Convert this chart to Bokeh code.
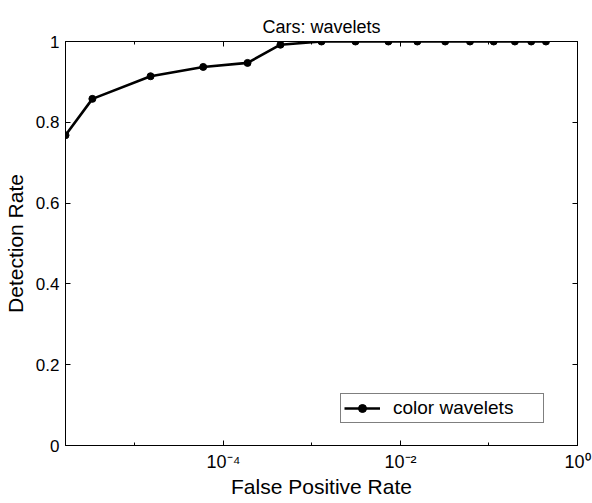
from bokeh.plotting import figure
from bokeh.models import (Range1d, FixedTicker, CustomJSTickFormatter, LogAxis,
                          LinearAxis, Legend, LegendItem, ColumnDataSource)
from bokeh.embed import file_html
from bokeh.resources import INLINE

# ---- data ----
fpr = [1.64e-6, 3.3e-6, 1.5e-5, 5.9e-5, 1.87e-4, 4.4e-4, 1.28e-3, 3.1e-3,
       7.3e-3, 1.55e-2, 3.2e-2, 6.1e-2, 0.113, 0.196, 0.30, 0.44]
detection = [0.768, 0.858, 0.914, 0.937, 0.947, 0.992, 1.0, 1.0,
             1.0, 1.0, 1.0, 1.0, 1.0, 1.0, 1.0, 1.0]
x_ticks = [1e-4, 1e-2, 1.0]
x_minor_ticks = [1e-5, 1e-3, 1e-1]
y_ticks = [0, 0.2, 0.4, 0.6, 0.8, 1.0]
series_name = "color wavelets"
chart_title = "Cars: wavelets"
x_label = "False Positive Rate"
y_label = "Detection Rate"

FONT = "Liberation Sans"

src = ColumnDataSource(data=dict(x=fpr, y=detection))

p = figure(frame_width=512, frame_height=404,
           x_axis_type="log",
           x_range=Range1d(fpr[0], 1.0), y_range=Range1d(0, 1),
           output_backend="svg", toolbar_location=None,
           title=chart_title,
           min_border_left=56, min_border_right=16,
           min_border_top=41, min_border_bottom=50)

p.background_fill_color = "white"
p.border_fill_color = "white"
p.outline_line_color = "black"
p.outline_line_width = 1
p.xgrid.visible = False
p.ygrid.visible = False

p.title.text_font = FONT
p.title.text_font_size = "18px"
p.title.text_font_style = "normal"
p.title.text_color = "black"
p.title.align = "center"

sup_js = """
const e = Math.round(Math.log10(tick));
const sup = {"-":"\u207b","0":"\u2070","1":"\u00b9","2":"\u00b2","3":"\u00b3",
             "4":"\u2074","5":"\u2075","6":"\u2076","7":"\u2077","8":"\u2078","9":"\u2079"};
return "10" + String(e).split("").map(c => sup[c]).join("");
"""

def style_axis(ax):
    ax.axis_line_color = "black"
    ax.axis_line_width = 1
    ax.major_tick_line_color = "black"
    ax.minor_tick_line_color = "black"
    ax.major_tick_in = 5
    ax.major_tick_out = 0
    ax.minor_tick_in = 3
    ax.minor_tick_out = 0
    ax.major_label_text_font = FONT
    ax.major_label_text_font_size = "17px"
    ax.major_label_text_color = "black"
    ax.axis_label_text_font = FONT
    ax.axis_label_text_font_size = "21px"
    ax.axis_label_text_font_style = "normal"
    ax.axis_label_text_color = "black"

xa = p.xaxis[0]
xa.ticker = FixedTicker(ticks=x_ticks, minor_ticks=x_minor_ticks)
xa.formatter = CustomJSTickFormatter(code=sup_js)
xa.axis_label = x_label
style_axis(xa)
xa.major_label_text_font_size = "18px"
xa.major_label_standoff = 6
xa.axis_label_standoff = 0

ya = p.yaxis[0]
ya.ticker = FixedTicker(ticks=y_ticks)
ya.axis_label = y_label
style_axis(ya)
ya.major_label_standoff = 6
ya.axis_label_standoff = 6

blank = CustomJSTickFormatter(code="return '';")
top = LogAxis(ticker=FixedTicker(ticks=x_ticks, minor_ticks=x_minor_ticks),
              formatter=blank)
style_axis(top)
top.major_label_text_font_size = "1px"
p.add_layout(top, "above")

right = LinearAxis(ticker=FixedTicker(ticks=y_ticks), formatter=blank)
style_axis(right)
right.major_label_text_font_size = "1px"
p.add_layout(right, "right")

line_r = p.line("x", "y", source=src, line_color="black", line_width=2.6)
dot_r = p.scatter("x", "y", source=src, marker="circle", size=7,
                  fill_color="black", line_color="black")

legend = Legend(items=[LegendItem(label=series_name, renderers=[line_r, dot_r])],
                location=(275, 22))
legend.border_line_color = "black"
legend.border_line_width = 1
legend.background_fill_color = "white"
legend.background_fill_alpha = 1.0
legend.label_text_font = FONT
legend.label_text_font_size = "19px"
legend.label_text_color = "black"
legend.padding = 3
legend.margin = 0
legend.spacing = 0
legend.glyph_width = 36
legend.glyph_height = 20
legend.label_height = 20
legend.label_width = 147
legend.label_standoff = 13
p.add_layout(legend)

open("out.html", "w").write(file_html(p, INLINE))
